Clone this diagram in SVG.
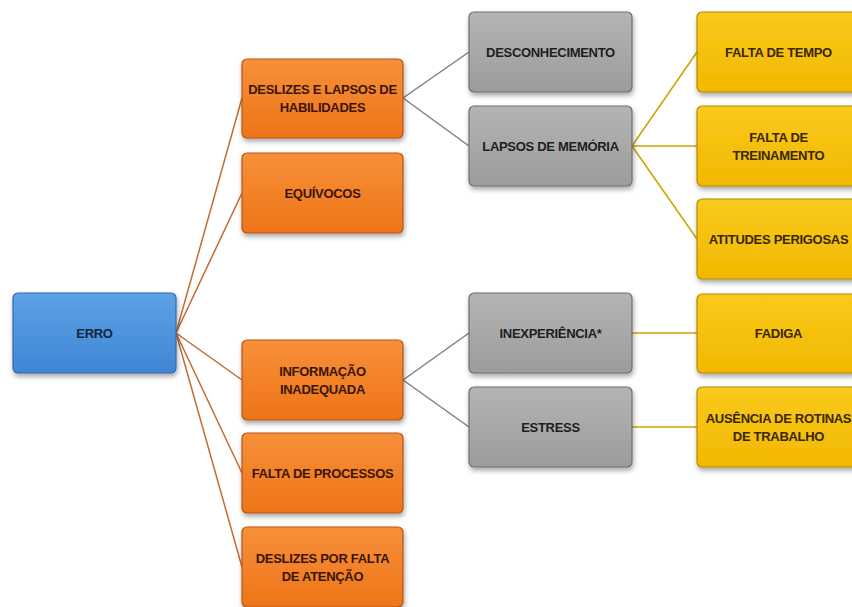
<svg xmlns="http://www.w3.org/2000/svg" width="852" height="607" viewBox="0 0 852 607">
  <defs>
    <linearGradient id="gBlue" x1="0" y1="0" x2="0" y2="1">
      <stop offset="0" stop-color="#5DA2E6"/>
      <stop offset="1" stop-color="#3F86D4"/>
    </linearGradient>
    <linearGradient id="gOrange" x1="0" y1="0" x2="0" y2="1">
      <stop offset="0" stop-color="#F7903A"/>
      <stop offset="1" stop-color="#EE7418"/>
    </linearGradient>
    <linearGradient id="gGray" x1="0" y1="0" x2="0" y2="1">
      <stop offset="0" stop-color="#B4B4B4"/>
      <stop offset="1" stop-color="#9C9C9C"/>
    </linearGradient>
    <linearGradient id="gYellow" x1="0" y1="0" x2="0" y2="1">
      <stop offset="0" stop-color="#F9CA1C"/>
      <stop offset="1" stop-color="#F2B800"/>
    </linearGradient>
    <filter id="shadow" x="-10%" y="-10%" width="125%" height="135%">
      <feDropShadow dx="1" dy="3" stdDeviation="2.5" flood-color="#000" flood-opacity="0.35"/>
    </filter>
  </defs>
  <style>
    .box { filter: url(#shadow); stroke-width: 1.2; }
    .blue { fill: url(#gBlue); stroke: #2F6AAE; }
    .orange { fill: url(#gOrange); stroke: #B85510; }
    .gray { fill: url(#gGray); stroke: #6E6E6E; }
    .yellow { fill: url(#gYellow); stroke: #B38A00; }
    text { font-family: "Liberation Sans", Arial, sans-serif; font-weight: bold; font-size: 13px; text-anchor: middle; letter-spacing: -0.3px; }
    .tBlue { fill: #14263F; }
    .tOrange { fill: #3A1505; }
    .tGray { fill: #1E1E1E; }
    .tYellow { fill: #3A2600; }
    .cOrange { stroke: #C56A30; stroke-width: 1.5; fill: none; }
    .cGray { stroke: #7F7F7F; stroke-width: 1.5; fill: none; }
    .cYellow { stroke: #C9A400; stroke-width: 1.5; fill: none; }
  </style>
  <rect width="852" height="607" fill="#FFFFFF"/>

  <!-- connectors -->
  <g id="connectors">
    <line class="cOrange" x1="176" y1="333" x2="242" y2="98"/>
    <line class="cOrange" x1="176" y1="333" x2="242" y2="193"/>
    <line class="cOrange" x1="176" y1="333" x2="242" y2="380"/>
    <line class="cOrange" x1="176" y1="333" x2="242" y2="473"/>
    <line class="cOrange" x1="176" y1="333" x2="242" y2="567"/>
    <line class="cGray" x1="403" y1="98" x2="469" y2="52"/>
    <line class="cGray" x1="403" y1="98" x2="469" y2="146"/>
    <line class="cGray" x1="403" y1="380" x2="469" y2="333"/>
    <line class="cGray" x1="403" y1="380" x2="469" y2="427"/>
    <line class="cYellow" x1="632" y1="146" x2="697" y2="52"/>
    <line class="cYellow" x1="632" y1="146" x2="697" y2="146"/>
    <line class="cYellow" x1="632" y1="146" x2="697" y2="239"/>
    <line class="cYellow" x1="632" y1="333" x2="697" y2="333"/>
    <line class="cYellow" x1="632" y1="427" x2="697" y2="427"/>
  </g>

  <!-- root -->
  <g id="erro">
    <rect class="box blue" x="13" y="293" width="163" height="80" rx="5"/>
    <text class="tBlue" x="94.5" y="338">ERRO</text>
  </g>

  <!-- level 1 -->
  <g id="deslizes-lapsos">
    <rect class="box orange" x="242" y="59" width="161" height="79" rx="5"/>
    <text class="tOrange" x="322.5" y="94">DESLIZES E LAPSOS DE</text>
    <text class="tOrange" x="322.5" y="112">HABILIDADES</text>
  </g>
  <g id="equivocos">
    <rect class="box orange" x="242" y="153" width="161" height="80" rx="5"/>
    <text class="tOrange" x="322.5" y="198">EQUÍVOCOS</text>
  </g>
  <g id="informacao">
    <rect class="box orange" x="242" y="340" width="161" height="80" rx="5"/>
    <text class="tOrange" x="322.5" y="376">INFORMAÇÃO</text>
    <text class="tOrange" x="322.5" y="394">INADEQUADA</text>
  </g>
  <g id="falta-processos">
    <rect class="box orange" x="242" y="433" width="161" height="80" rx="5"/>
    <text class="tOrange" x="322.5" y="478">FALTA DE PROCESSOS</text>
  </g>
  <g id="deslizes-atencao">
    <rect class="box orange" x="242" y="527" width="161" height="80" rx="5"/>
    <text class="tOrange" x="322.5" y="563">DESLIZES POR FALTA</text>
    <text class="tOrange" x="322.5" y="581">DE ATENÇÃO</text>
  </g>

  <!-- level 2 -->
  <g id="desconhecimento">
    <rect class="box gray" x="469" y="12" width="163" height="80" rx="5"/>
    <text class="tGray" x="550.5" y="57">DESCONHECIMENTO</text>
  </g>
  <g id="lapsos-memoria">
    <rect class="box gray" x="469" y="106" width="163" height="80" rx="5"/>
    <text class="tGray" x="550.5" y="151">LAPSOS DE MEMÓRIA</text>
  </g>
  <g id="inexperiencia">
    <rect class="box gray" x="469" y="293" width="163" height="80" rx="5"/>
    <text class="tGray" x="550.5" y="338">INEXPERIÊNCIA*</text>
  </g>
  <g id="estress">
    <rect class="box gray" x="469" y="387" width="163" height="80" rx="5"/>
    <text class="tGray" x="550.5" y="432">ESTRESS</text>
  </g>

  <!-- level 3 -->
  <g id="falta-tempo">
    <rect class="box yellow" x="697" y="12" width="163" height="80" rx="5"/>
    <text class="tYellow" x="778.5" y="57">FALTA DE TEMPO</text>
  </g>
  <g id="falta-treinamento">
    <rect class="box yellow" x="697" y="106" width="163" height="80" rx="5"/>
    <text class="tYellow" x="778.5" y="142">FALTA DE</text>
    <text class="tYellow" x="778.5" y="160">TREINAMENTO</text>
  </g>
  <g id="atitudes-perigosas">
    <rect class="box yellow" x="697" y="199" width="163" height="80" rx="5"/>
    <text class="tYellow" x="778.5" y="244">ATITUDES PERIGOSAS</text>
  </g>
  <g id="fadiga">
    <rect class="box yellow" x="697" y="294" width="163" height="79" rx="5"/>
    <text class="tYellow" x="778.5" y="338">FADIGA</text>
  </g>
  <g id="ausencia-rotinas">
    <rect class="box yellow" x="697" y="387" width="163" height="80" rx="5"/>
    <text class="tYellow" x="778.5" y="423">AUSÊNCIA DE ROTINAS</text>
    <text class="tYellow" x="778.5" y="441">DE TRABALHO</text>
  </g>
</svg>
